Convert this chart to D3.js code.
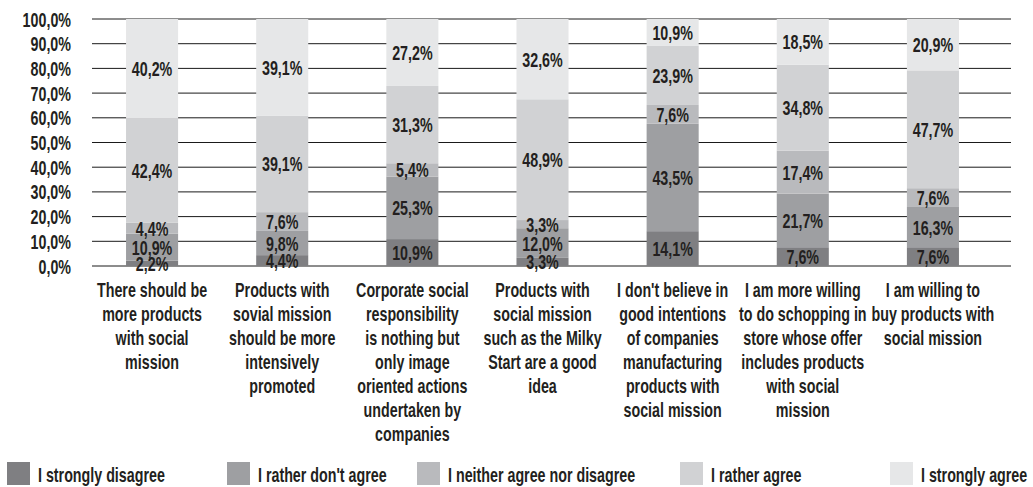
<!DOCTYPE html>
<html>
<head>
<meta charset="utf-8">
<script src="https://cdn.jsdelivr.net/npm/d3@7"></script>
<style>
  body { margin: 0; background: #fff; }
  svg { display: block; }
  .lbl { font-family: "Liberation Sans", Arial, sans-serif; font-weight: bold; font-size: 21px; fill: #231f20; }
</style>
</head>
<body>
<div id="chart"></div>
<script>
// Chart data.
const categories = [
  "There should be\nmore products\nwith social\nmission",
  "Products with\nsovial mission\nshould be more\nintensively\npromoted",
  "Corporate social\nresponsibility\nis nothing but\nonly image\noriented actions\nundertaken by\ncompanies",
  "Products with\nsocial mission\nsuch as the Milky\nStart are a good\nidea",
  "I don't believe in\ngood intentions\nof companies\nmanufacturing\nproducts with\nsocial mission",
  "I am more willing\nto do schopping in\nstore whose offer\nincludes products\nwith social\nmission",
  "I am willing to\nbuy products with\nsocial mission"
];
const seriesNames = ["I strongly disagree", "I rather don't agree", "I neither agree nor disagree", "I rather agree", "I strongly agree"];
const stronglyDisagree = [2.2, 4.4, 10.9, 3.3, 14.1, 7.6, 7.6];
const ratherDisagree = [10.9, 9.8, 25.3, 12.0, 43.5, 21.7, 16.3];
const neither = [4.4, 7.6, 5.4, 3.3, 7.6, 17.4, 7.6];
const ratherAgree = [42.4, 39.1, 31.3, 48.9, 23.9, 34.8, 47.7];
const stronglyAgree = [40.2, 39.1, 27.2, 32.6, 10.9, 18.5, 20.9];
const yTicks = [0, 10, 20, 30, 40, 50, 60, 70, 80, 90, 100];

const seriesColors = ["#7f7f82", "#9e9fa2", "#b9babd", "#d1d2d4", "#e6e7e8"];

// Layout.
const width = 1033;
const height = 487;
const plot = { left: 92, right: 1011, top: 19, bottom: 266 };
const sx = 0.68; // horizontal squeeze for the condensed look
const legendX = [7, 227, 417, 680, 890];
const legendY = 462;

const seriesValues = [stronglyDisagree, ratherDisagree, neither, ratherAgree, stronglyAgree];
const rows = categories.map((c, i) => {
  const r = { cat: c };
  seriesNames.forEach((s, k) => { r[s] = seriesValues[k][i]; });
  return r;
});
const stacked = d3.stack().keys(seriesNames)(rows);

const fmt = (v) => v.toFixed(1).replace(".", ",") + "%";

const svg = d3.select("#chart").append("svg")
  .attr("width", width)
  .attr("height", height);

const xScale = d3.scaleBand()
  .domain(categories)
  .range([87, 998])
  .paddingInner(0.6)
  .paddingOuter(0.3);

const yScale = d3.scaleLinear()
  .domain([0, 100])
  .range([plot.bottom, plot.top]);

const colorScale = d3.scaleOrdinal().domain(seriesNames).range(seriesColors);

function squeezedText(sel, x, y) {
  return sel.append("text")
    .attr("class", "lbl")
    .attr("transform", `translate(${x},${y}) scale(${sx},1)`);
}

// Gridlines.
svg.append("g")
  .selectAll("line")
  .data(yTicks)
  .join("line")
  .attr("x1", plot.left)
  .attr("x2", plot.right)
  .attr("y1", (d) => yScale(d))
  .attr("y2", (d) => yScale(d))
  .attr("stroke", "#1a1a1a")
  .attr("stroke-width", 1);

// Y axis labels.
const yLabels = svg.append("g");
yTicks.forEach((t) => {
  squeezedText(yLabels, 71, yScale(t))
    .attr("text-anchor", "end")
    .attr("dy", "0.36em")
    .text(fmt(t));
});

// Bars.
const layers = svg.append("g")
  .selectAll("g")
  .data(stacked)
  .join("g")
  .attr("fill", (d) => colorScale(d.key));

layers.selectAll("rect")
  .data((d) => d)
  .join("rect")
  .attr("x", (d) => xScale(d.data.cat))
  .attr("width", xScale.bandwidth())
  .attr("y", (d) => yScale(Math.min(d[1], 100)))
  .attr("height", (d) => yScale(d[0]) - yScale(Math.min(d[1], 100)));

// Value labels.
const valLabels = svg.append("g");
stacked.forEach((layer) => {
  layer.forEach((d) => {
    const cx = xScale(d.data.cat) + xScale.bandwidth() / 2;
    const cy = yScale((d[0] + Math.min(d[1], 100)) / 2);
    squeezedText(valLabels, cx, cy)
      .attr("text-anchor", "middle")
      .attr("dy", "0.36em")
      .text(fmt(d[1] - d[0]));
  });
});

// Category labels.
const catLabels = svg.append("g");
categories.forEach((c) => {
  const t = squeezedText(catLabels, xScale(c) + xScale.bandwidth() / 2, 297)
    .attr("text-anchor", "middle");
  c.split("\n").forEach((line, i) => {
    t.append("tspan")
      .attr("x", 0)
      .attr("y", i * 24)
      .text(line);
  });
});

// Legend.
const legend = svg.append("g");
seriesNames.forEach((s, i) => {
  legend.append("rect")
    .attr("x", legendX[i])
    .attr("y", legendY)
    .attr("width", 23)
    .attr("height", 23)
    .attr("fill", colorScale(s));
  squeezedText(legend, legendX[i] + 31, legendY + 12)
    .attr("dy", "0.36em")
    .text(s);
});
</script>
</body>
</html>
